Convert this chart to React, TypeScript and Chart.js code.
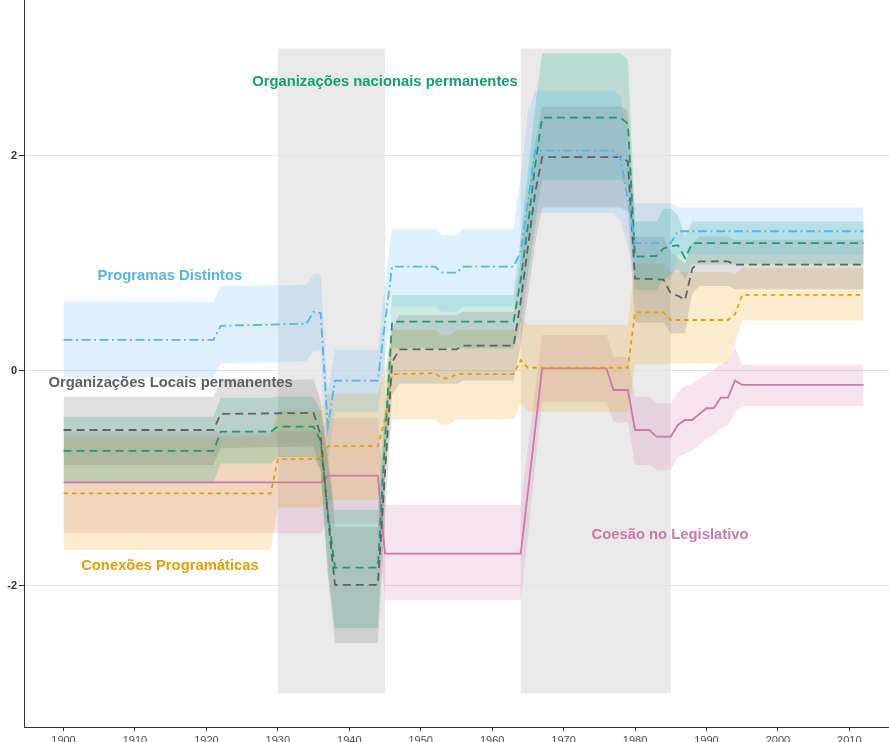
import React, { useEffect, useRef } from "react";
import { Chart, registerables } from "chart.js";

Chart.register(...registerables);

// ---------- axes ----------
const xTicks = [1900, 1910, 1920, 1930, 1940, 1950, 1960, 1970, 1980, 1990, 2000, 2010];
const yTicks = [-2, 0, 2];
const X_MIN = 1894.47;
const X_MAX = 2015.55;
const Y_MIN = -3.312;
const Y_MAX = 3.451;

// ---------- shaded periods ----------
const periodStart = [1930, 1964];
const periodEnd = [1945, 1985];
const periodLow = -3.0;
const periodHigh = 3.0;

// ---------- Programas Distintos (blue) ----------
const progYears = [1900, 1921, 1922, 1934, 1935, 1936, 1937, 1938, 1944, 1945, 1946, 1952, 1953, 1955, 1956, 1963, 1964, 1965, 1966, 1977, 1978, 1979, 1980, 1985, 1986, 2012];
const progMid = [0.29, 0.29, 0.42, 0.44, 0.55, 0.54, -0.52, -0.09, -0.09, 0.45, 0.97, 0.97, 0.915, 0.915, 0.97, 0.97, 1.11, 1.58, 2.05, 2.05, 1.97, 1.59, 1.19, 1.19, 1.30, 1.30];
const progLo = [-0.06, -0.06, 0.07, 0.09, 0.19, 0.19, -0.85, -0.38, -0.38, 0.10, 0.60, 0.60, 0.55, 0.55, 0.60, 0.60, 0.75, 1.20, 1.47, 1.47, 1.40, 1.15, 0.85, 0.85, 1.08, 1.08];
const progHi = [0.645, 0.645, 0.79, 0.80, 0.90, 0.90, -0.20, 0.195, 0.195, 0.80, 1.318, 1.318, 1.265, 1.265, 1.318, 1.318, 1.80, 2.40, 2.61, 2.61, 2.55, 2.05, 1.56, 1.56, 1.52, 1.52];

// ---------- Organizações nacionais permanentes (green) ----------
const nacYears = [1900, 1921, 1922, 1929, 1930, 1935, 1936, 1937, 1938, 1944, 1945, 1946, 1963, 1964, 1965, 1966, 1967, 1978, 1979, 1980, 1983, 1984, 1985, 1986, 1987, 1988, 2012];
const nacMid = [-0.744, -0.744, -0.565, -0.565, -0.518, -0.518, -0.65, -1.32, -1.83, -1.83, -0.65, 0.459, 0.459, 0.85, 1.35, 1.90, 2.356, 2.356, 2.30, 1.063, 1.07, 1.14, 1.16, 1.17, 1.05, 1.19, 1.19];
const nacLo = [-1.045, -1.045, -0.86, -0.86, -0.80, -0.80, -0.93, -1.85, -2.39, -2.39, -1.0, 0.21, 0.21, 0.45, 0.9, 1.35, 1.78, 1.78, 1.72, 0.75, 0.75, 0.85, 0.90, 0.95, 0.85, 0.99, 0.99];
const nacHi = [-0.425, -0.425, -0.25, -0.25, -0.24, -0.24, -0.37, -0.80, -1.29, -1.29, -0.30, 0.707, 0.707, 1.25, 1.85, 2.45, 2.955, 2.955, 2.90, 1.39, 1.39, 1.51, 1.51, 1.45, 1.25, 1.39, 1.39];

// ---------- Organizações Locais permanentes (grey) ----------
const locYears = [1900, 1921, 1922, 1935, 1936, 1937, 1938, 1944, 1945, 1946, 1947, 1955, 1956, 1963, 1964, 1965, 1966, 1967, 1978, 1979, 1980, 1984, 1985, 1986, 1987, 1988, 1989, 1993, 1994, 2012];
const locMid = [-0.549, -0.549, -0.40, -0.39, -0.60, -1.35, -1.99, -1.99, -0.95, 0.08, 0.20, 0.20, 0.235, 0.235, 0.65, 1.15, 1.65, 1.99, 1.99, 1.95, 0.86, 0.85, 0.72, 0.70, 0.66, 0.95, 1.02, 1.02, 0.99, 0.99];
const locLo = [-0.875, -0.875, -0.72, -0.70, -0.92, -1.90, -2.53, -2.53, -1.40, -0.22, -0.12, -0.12, -0.09, -0.09, 0.25, 0.70, 1.18, 1.52, 1.52, 1.48, 0.45, 0.45, 0.35, 0.35, 0.35, 0.72, 0.79, 0.79, 0.76, 0.76];
const locHi = [-0.239, -0.239, -0.09, -0.08, -0.28, -0.82, -1.45, -1.45, -0.50, 0.40, 0.52, 0.52, 0.55, 0.55, 1.05, 1.60, 2.12, 2.46, 2.46, 2.42, 1.25, 1.25, 1.10, 1.05, 1.00, 1.18, 1.25, 1.25, 1.22, 1.22];

// ---------- Conexões Programáticas (orange) ----------
const conYears = [1900, 1929, 1930, 1936, 1937, 1944, 1945, 1946, 1952, 1953, 1954, 1955, 1963, 1964, 1965, 1979, 1980, 1984, 1985, 1993, 1994, 1995, 2012];
const conMid = [-1.138, -1.138, -0.82, -0.82, -0.70, -0.70, -0.45, -0.03, -0.02, -0.068, -0.068, -0.03, -0.03, 0.10, 0.03, 0.03, 0.546, 0.546, 0.474, 0.474, 0.53, 0.707, 0.707];
const conLo = [-1.665, -1.665, -1.27, -1.27, -1.20, -1.20, -0.90, -0.45, -0.45, -0.50, -0.50, -0.45, -0.45, -0.30, -0.38, -0.38, 0.06, 0.06, 0.07, 0.07, 0.25, 0.47, 0.47];
const conHi = [-0.61, -0.61, -0.37, -0.37, -0.21, -0.21, 0.0, 0.38, 0.38, 0.33, 0.33, 0.38, 0.38, 0.50, 0.43, 0.43, 1.00, 1.00, 0.92, 0.92, 0.90, 0.96, 0.96];

// ---------- Coesão no Legislativo (pink) ----------
const coeYears = [1900, 1936, 1937, 1944, 1945, 1964, 1965, 1966, 1967, 1976, 1977, 1979, 1980, 1982, 1983, 1985, 1986, 1987, 1988, 1989, 1990, 1991, 1992, 1993, 1994, 1995, 2012];
const coeMid = [-1.036, -1.036, -0.974, -0.974, -1.70, -1.70, -1.13, -0.55, 0.025, 0.025, -0.177, -0.177, -0.549, -0.549, -0.611, -0.611, -0.502, -0.456, -0.456, -0.40, -0.347, -0.347, -0.248, -0.248, -0.09, -0.13, -0.13];
const coeLo = [-1.51, -1.51, -1.42, -1.42, -2.13, -2.13, -1.55, -0.90, -0.285, -0.285, -0.48, -0.48, -0.875, -0.875, -0.92, -0.92, -0.80, -0.77, -0.74, -0.69, -0.63, -0.60, -0.53, -0.50, -0.38, -0.326, -0.326];
const coeHi = [-0.56, -0.56, -0.44, -0.44, -1.247, -1.247, -0.72, -0.20, 0.335, 0.335, 0.13, 0.13, -0.24, -0.24, -0.30, -0.30, -0.20, -0.14, -0.12, -0.07, -0.03, 0.01, 0.06, 0.09, 0.22, 0.056, 0.056];

// ---------- labels ----------
const labelTexts = [
  "Organizações nacionais permanentes",
  "Programas Distintos",
  "Organizações Locais permanentes",
  "Conexões Programáticas",
  "Coesão no Legislativo",
];
const labelX = [1945.0, 1914.9, 1915.0, 1914.9, 1984.9];
const labelY = [2.69, 0.884, -0.114, -1.814, -1.526];
const labelColors = ["#12a077", "#56B4E9", "#606060", "#E69F00", "#CC79A7"];

type Series = {
  years: number[];
  mid: number[];
  lo: number[];
  hi: number[];
  color: string;
  band: string;
  dash: number[];
};

const seriesList: Series[] = [
  { years: progYears, mid: progMid, lo: progLo, hi: progHi, color: "#56B4E9", band: "rgba(86,180,233,0.2)", dash: [9, 3.5, 2, 3.5] },
  { years: locYears, mid: locMid, lo: locLo, hi: locHi, color: "#606060", band: "rgba(102,102,102,0.2)", dash: [8, 5] },
  { years: nacYears, mid: nacMid, lo: nacLo, hi: nacHi, color: "#1a9a70", band: "rgba(0,158,115,0.2)", dash: [8, 5] },
  { years: conYears, mid: conMid, lo: conLo, hi: conHi, color: "#E69F00", band: "rgba(230,159,0,0.2)", dash: [4.5, 4] },
  { years: coeYears, mid: coeMid, lo: coeLo, hi: coeHi, color: "#CC79A7", band: "rgba(204,121,167,0.2)", dash: [] },
];

const toPts = (xs: number[], ys: number[]) => xs.map((x, i) => ({ x, y: ys[i] }));

const shadePlugin = {
  id: "shadePeriods",
  beforeDraw(chart: any) {
    const { ctx, scales } = chart;
    const xs = scales.x;
    const ys = scales.y;
    ctx.save();
    ctx.fillStyle = "rgba(190,190,190,0.34)";
    periodStart.forEach((a, i) => {
      const x0 = xs.getPixelForValue(a);
      const x1 = xs.getPixelForValue(periodEnd[i]);
      const y0 = ys.getPixelForValue(periodHigh);
      const y1 = ys.getPixelForValue(periodLow);
      ctx.fillRect(x0, y0, x1 - x0, y1 - y0);
    });
    ctx.restore();
  },
};

const labelPlugin = {
  id: "seriesLabels",
  afterDatasetsDraw(chart: any) {
    const { ctx, scales } = chart;
    ctx.save();
    ctx.font = 'bold 14.8px "Liberation Sans", Arial, sans-serif';
    ctx.textAlign = "center";
    ctx.textBaseline = "middle";
    labelTexts.forEach((t, i) => {
      ctx.fillStyle = labelColors[i];
      ctx.fillText(t, scales.x.getPixelForValue(labelX[i]), scales.y.getPixelForValue(labelY[i]));
    });
    ctx.restore();
  },
};

export default function App() {
  const ref = useRef<HTMLCanvasElement>(null);

  useEffect(() => {
    document.body.style.overflow = "hidden";
    const canvas = ref.current;
    if (!canvas) return;

    const lineSets: any[] = seriesList.map((s) => ({
      data: toPts(s.years, s.mid),
      borderColor: s.color,
      borderWidth: 1.8,
      borderDash: s.dash,
      pointRadius: 0,
      fill: false,
      order: 0,
    }));
    const bandSets: any[] = [];
    seriesList.forEach((s) => {
      bandSets.push({
        data: toPts(s.years, s.lo),
        borderWidth: 0,
        borderColor: "rgba(0,0,0,0)",
        pointRadius: 0,
        fill: false,
        order: 1,
      });
      bandSets.push({
        data: toPts(s.years, s.hi),
        borderWidth: 0,
        borderColor: "rgba(0,0,0,0)",
        backgroundColor: s.band,
        pointRadius: 0,
        fill: "-1",
        order: 1,
      });
    });

    const chart = new Chart(canvas, {
      type: "line",
      data: { datasets: [...lineSets, ...bandSets] },
      options: {
        animation: false,
        responsive: false,
        devicePixelRatio: 1,
        layout: { padding: 0 },
        plugins: {
          legend: { display: false },
          tooltip: { enabled: false },
        },
        scales: {
          x: {
            type: "linear",
            min: X_MIN,
            max: X_MAX,
            afterBuildTicks: (s: any) => {
              s.ticks = xTicks.map((v) => ({ value: v }));
            },
            afterFit: (s: any) => {
              s.height = 15;
              s.paddingLeft = 0;
              s.paddingRight = 0;
            },
            grid: { drawOnChartArea: false, tickLength: 4, tickColor: "#333", color: "#333" },
            border: { color: "#333", width: 1 },
            ticks: {
              autoSkip: false,
              maxRotation: 0,
              padding: 3,
              color: "#4d4d4d",
              font: { family: '"Liberation Sans", Arial, sans-serif', size: 11 },
              callback: (v: any) => String(v),
            },
          },
          y: {
            type: "linear",
            min: Y_MIN,
            max: Y_MAX,
            afterBuildTicks: (s: any) => {
              s.ticks = yTicks.map((v) => ({ value: v }));
            },
            afterFit: (s: any) => {
              s.width = 24;
              s.paddingTop = 0;
              s.paddingBottom = 0;
            },
            grid: { color: "#e4e4e4", lineWidth: 1, tickLength: 5, tickColor: "#333" },
            border: { color: "#333", width: 1 },
            ticks: {
              padding: 2,
              color: "#333",
              font: { family: '"Liberation Sans", Arial, sans-serif', size: 11, weight: "bold" },
              callback: (v: any) => String(v),
            },
          },
        },
      },
      plugins: [shadePlugin, labelPlugin],
    } as any);

    return () => chart.destroy();
  }, []);

  return (
    <div style={{ position: "absolute", left: 0, top: 0, width: 889, height: 742 }}>
      <canvas ref={ref} width={889} height={742} style={{ display: "block", width: 889, height: 742 }} />
    </div>
  );
}
